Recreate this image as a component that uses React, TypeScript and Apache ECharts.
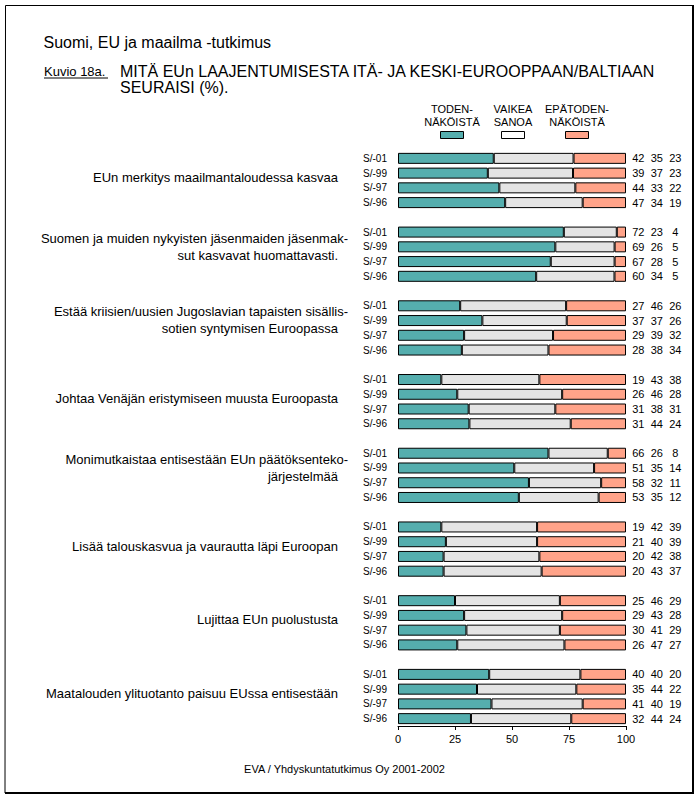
import React, { useEffect, useRef } from "react";
import * as echarts from "echarts";

// ---------- data ----------
const statements: string[][] = [
  ["EUn merkitys maailmantaloudessa kasvaa"],
  ["Suomen ja muiden nykyisten jäsenmaiden jäsenmak-", "sut kasvavat huomattavasti."],
  ["Estää kriisien/uusien Jugoslavian tapaisten sisällis-", "sotien syntymisen Euroopassa"],
  ["Johtaa Venäjän eristymiseen muusta Euroopasta"],
  ["Monimutkaistaa entisestään EUn päätöksenteko-", "järjestelmää"],
  ["Lisää talouskasvua ja vaurautta läpi Euroopan"],
  ["Lujittaa EUn puolustusta"],
  ["Maatalouden ylituotanto paisuu EUssa entisestään"],
];
const waves = ["S/-01", "S/-99", "S/-97", "S/-96"];
const likely = [
  [42, 39, 44, 47],
  [72, 69, 67, 60],
  [27, 37, 29, 28],
  [19, 26, 31, 31],
  [66, 51, 58, 53],
  [19, 21, 20, 20],
  [25, 29, 30, 26],
  [40, 35, 41, 32],
];
const hardToSay = [
  [35, 37, 33, 34],
  [23, 26, 28, 34],
  [46, 37, 39, 38],
  [43, 46, 38, 44],
  [26, 35, 32, 35],
  [42, 40, 42, 43],
  [46, 43, 41, 47],
  [40, 44, 40, 44],
];
const unlikely = [
  [23, 23, 22, 19],
  [4, 5, 5, 5],
  [26, 26, 32, 34],
  [38, 28, 31, 24],
  [8, 14, 11, 12],
  [39, 39, 38, 37],
  [29, 28, 29, 27],
  [20, 22, 19, 24],
];
const seriesLabels = [
  ["TODEN-", "NÄKÖISTÄ"],
  ["VAIKEA", "SANOA"],
  ["EPÄTODEN-", "NÄKÖISTÄ"],
];
const titleTop = "Suomi, EU ja maailma -tutkimus";
const figureNo = "Kuvio 18a.";
const titleLines = ["MITÄ EUn LAAJENTUMISESTA ITÄ- JA KESKI-EUROOPPAAN/BALTIAAN", "SEURAISI (%)."];
const footer = "EVA / Yhdyskuntatutkimus Oy 2001-2002";

// ---------- styles ----------
const FONT = "'Liberation Sans', Arial, Helvetica, sans-serif";
const COLORS = ["#55AEAE", "#E4E4E4", "#FFA389"];

type Row = { key: string; g: number; w: number };

export default function App() {
  const ref = useRef<HTMLDivElement>(null);

  useEffect(() => {
    if (!ref.current) return;
    const chart = echarts.init(ref.current, undefined, { renderer: "svg" });

    const rows: Row[] = [];
    statements.forEach((_, g) => {
      waves.forEach((_w, w) => rows.push({ key: `g${g}-w${w}`, g, w }));
      if (g < statements.length - 1) rows.push({ key: `gap${g}`, g: -1, w: -1 });
    });
    const sets = [likely, hardToSay, unlikely];
    const val = (s: number, r: Row) => {
      if (r.g < 0) return "-";
      const tot = likely[r.g][r.w] + hardToSay[r.g][r.w] + unlikely[r.g][r.w];
      return (sets[s][r.g][r.w] / tot) * 100;
    };

    const series: any[] = sets.map((_, s) => ({
      type: "bar",
      stack: "all",
      barWidth: 11,
      data: rows.map((r) => val(s, r)),
      itemStyle: { color: COLORS[s], borderColor: "#000", borderWidth: 1 },
      emphasis: { disabled: true },
      label:
        s === 2
          ? {
              show: true,
              position: "right",
              distance: 3,
              formatter: (p: any) => {
                const r = rows[p.dataIndex];
                if (r.g < 0) return "";
                return `{a|${likely[r.g][r.w]}}{b|${hardToSay[r.g][r.w]}}{c|${unlikely[r.g][r.w]}}`;
              },
              rich: {
                a: { width: 18.5, align: "center", fontSize: 11, fontFamily: FONT, color: "#000" },
                b: { width: 18.5, align: "center", fontSize: 11, fontFamily: FONT, color: "#000" },
                c: { width: 18.5, align: "center", fontSize: 11, fontFamily: FONT, color: "#000" },
              },
            }
          : { show: false },
    }));

    chart.setOption({
      animation: false,
      backgroundColor: "#fff",
      textStyle: { fontFamily: FONT },
      grid: { left: 398, top: 151, width: 228, height: 575, containLabel: false },
      xAxis: {
        type: "value",
        min: 0,
        max: 100,
        interval: 25,
        axisLine: { show: true, lineStyle: { color: "#000", width: 1 } },
        axisTick: { show: true, length: 4, lineStyle: { color: "#000" } },
        splitLine: { show: false },
        axisLabel: { color: "#000", fontSize: 11, fontFamily: FONT, margin: 7 },
      },
      yAxis: {
        type: "category",
        inverse: true,
        data: rows.map((r) => r.key),
        axisLine: { show: false },
        axisTick: { show: false },
        splitLine: { show: false },
        axisLabel: {
          interval: 0,
          color: "#000",
          fontSize: 10,
          fontFamily: FONT,
          margin: 11,
          formatter: (v: string) => {
            const r = rows.find((x) => x.key === v);
            return r && r.g >= 0 ? waves[r.w] : "";
          },
        },
      },
      series,
    });

    // ----- graphic overlay (positions of group labels from the axis scale) -----
    const graphic: any[] = [];
    graphic.push({
      type: "polyline",
      shape: { points: [[5, 793], [5.5, 5.5], [693, 5.5]] },
      style: { stroke: "#000", lineWidth: 1, fill: null },
    });
    graphic.push({
      type: "polyline",
      shape: { points: [[693, 5], [693, 793], [5, 793]] },
      style: { stroke: "#000", lineWidth: 2, fill: null },
    });
    graphic.push({
      type: "text",
      x: 43.5,
      y: 42.5,
      style: { text: titleTop, fontSize: 16, fontFamily: FONT, fill: "#000", align: "left", verticalAlign: "middle" },
    });
    graphic.push({
      type: "text",
      x: 44,
      y: 71.5,
      style: { text: figureNo, fontSize: 13, fontFamily: FONT, fill: "#000", align: "left", verticalAlign: "middle" },
    });
    graphic.push({
      type: "line",
      shape: { x1: 44, y1: 78, x2: 108, y2: 78 },
      style: { stroke: "#000", lineWidth: 1 },
    });
    titleLines.forEach((t, i) => {
      graphic.push({
        type: "text",
        x: 120,
        y: 71 + i * 16.5,
        style: { text: t, fontSize: 16, fontFamily: FONT, fill: "#000", align: "left", verticalAlign: "middle" },
      });
    });
    const legendX = [452, 513, 577];
    seriesLabels.forEach((lines, s) => {
      lines.forEach((t, i) => {
        graphic.push({
          type: "text",
          x: legendX[s],
          y: 109 + i * 12.5,
          style: { text: t, fontSize: 11, fontFamily: FONT, fill: "#000", align: "center", verticalAlign: "middle" },
        });
      });
      graphic.push({
        type: "rect",
        shape: { x: legendX[s] - 11.5, y: 131.5, width: 23, height: 7 },
        style: { fill: COLORS[s] === "#E4E4E4" ? "#fff" : COLORS[s], stroke: "#000", lineWidth: 1 },
      });
    });
    statements.forEach((lines, g) => {
      const i1 = rows.findIndex((r) => r.g === g && r.w === 1);
      const i2 = rows.findIndex((r) => r.g === g && r.w === 2);
      const y1 = chart.convertToPixel({ yAxisIndex: 0 }, i1) as number;
      const y2 = chart.convertToPixel({ yAxisIndex: 0 }, i2) as number;
      const c = (y1 + y2) / 2;
      const offs = lines.length === 1 ? [-3] : [-16, 1];
      lines.forEach((t, i) => {
        graphic.push({
          type: "text",
          x: t.endsWith("-") ? 348 : 338,
          y: c + offs[i],
          style: { text: t, fontSize: 13, fontFamily: FONT, fill: "#000", align: "right", verticalAlign: "middle" },
        });
      });
    });
    graphic.push({
      type: "text",
      x: 344.5,
      y: 768.5,
      style: { text: footer, fontSize: 11, fontFamily: FONT, fill: "#000", align: "center", verticalAlign: "middle" },
    });

    chart.setOption({ graphic });

    return () => chart.dispose();
  }, []);

  return (
    <div
      ref={ref}
      style={{ position: "absolute", left: 0, top: 0, width: 698, height: 797, background: "#fff" }}
    />
  );
}
